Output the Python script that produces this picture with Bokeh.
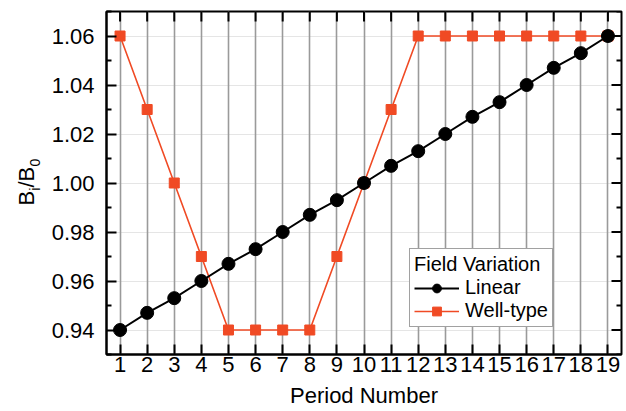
from bokeh.plotting import figure
from bokeh.layouts import row
from bokeh.models import (LinearAxis, FixedTicker, NumeralTickFormatter, Range1d,
                          Legend, Grid)
from bokeh.core.properties import value
from bokeh.embed import file_html
from bokeh.resources import INLINE
import math

# ---- data ----
period = [1, 2, 3, 4, 5, 6, 7, 8, 9, 10, 11, 12, 13, 14, 15, 16, 17, 18, 19]
linear = [0.940, 0.947, 0.953, 0.960, 0.967, 0.973, 0.980, 0.987, 0.993, 1.000,
          1.007, 1.013, 1.020, 1.027, 1.033, 1.040, 1.047, 1.053, 1.060]
well_type = [1.06, 1.03, 1.00, 0.97, 0.94, 0.94, 0.94, 0.94, 0.97, 1.00,
             1.03, 1.06, 1.06, 1.06, 1.06, 1.06, 1.06, 1.06, 1.06]
x_ticks = list(range(1, 20))
y_ticks = [0.94, 0.96, 0.98, 1.00, 1.02, 1.04, 1.06]
y_minor = [0.93, 0.95, 0.97, 0.99, 1.01, 1.03, 1.05, 1.07]
y_label_parts = ["B", "i", "/B", "0"]

FONT = "Liberation Sans"
RED = "#F04A24"
X0, X1, Y0, Y1 = 0.5, 19.5, 0.93, 1.07
W, H = 626, 411
LW = 48                      # width of the y-label strip
BL, BR, BT, BB = 106 - LW, 5, 11, 57

p = figure(width=W - LW, height=H, output_backend="svg", toolbar_location=None,
           title=None,
           x_range=Range1d(X0, X1), y_range=Range1d(Y0, Y1),
           min_border_left=BL, min_border_right=BR, min_border_top=BT,
           min_border_bottom=BB, x_axis_location=None, y_axis_location=None)
p.background_fill_color = "white"
p.border_fill_color = "white"
p.outline_line_color = "black"
p.outline_line_width = 2

def style_axis(ax):
    ax.axis_line_color = "black"
    ax.axis_line_width = 2
    ax.major_tick_in = 10
    ax.major_tick_out = 0
    ax.minor_tick_in = 5
    ax.minor_tick_out = 0
    ax.major_tick_line_color = "black"
    ax.major_tick_line_width = 2
    ax.minor_tick_line_color = "black"
    ax.minor_tick_line_width = 2
    ax.major_label_text_font = FONT
    ax.major_label_text_font_size = "22px"
    ax.major_label_text_color = "black"

xb = LinearAxis(ticker=FixedTicker(ticks=x_ticks))
style_axis(xb)
xb.major_label_standoff = 2
xb.axis_label = "Period Number"
xb.axis_label_text_font = FONT
xb.axis_label_text_font_size = "22px"
xb.axis_label_text_font_style = "normal"
xb.axis_label_text_color = "black"
xb.axis_label_standoff = 8
yl = LinearAxis(ticker=FixedTicker(ticks=y_ticks, minor_ticks=y_minor),
                formatter=NumeralTickFormatter(format="0.00"))
style_axis(yl)
yl.major_label_standoff = 12
p.add_layout(xb, "below")
p.add_layout(yl, "left")

# vertical grid lines at each period
g = Grid(dimension=0, ticker=FixedTicker(ticks=x_ticks))
g.grid_line_color = "#9a9a9a"
g.grid_line_width = 1.6
p.add_layout(g)

# inward ticks on top and right frame edges (outer half clipped by the frame)
p.scatter(x_ticks, [Y1] * len(x_ticks), marker="dash", angle=math.pi / 2,
          size=20, line_color="black", line_width=2)
p.scatter([X1] * len(y_ticks), y_ticks, marker="dash", size=20,
          line_color="black", line_width=2)
p.scatter([X1] * len(y_minor), y_minor, marker="dash", size=10,
          line_color="black", line_width=2)

# series
r_wl = p.line(period, well_type, line_color=RED, line_width=1.6)
r_ws = p.scatter(period, well_type, marker="square", size=10, fill_color=RED,
                 line_color=RED)
r_ll = p.line(period, linear, line_color="black", line_width=2)
r_ls = p.scatter(period, linear, marker="circle", size=13, fill_color="black",
                 line_color="black")

legend = Legend(items=[("Linear", [r_ll, r_ls]), ("Well-type", [r_wl, r_ws])],
                location=(303, 27), title="Field Variation")
legend.title_text_font = FONT
legend.title_text_font_size = "20px"
legend.title_text_font_style = "normal"
legend.title_text_color = "black"
legend.label_text_font = FONT
legend.label_text_font_size = "20px"
legend.label_text_color = "black"
legend.border_line_color = "#444444"
legend.border_line_width = 1
legend.padding = 4
legend.spacing = 0
legend.margin = 0
legend.glyph_width = 45
legend.glyph_height = 22
legend.label_height = 22
legend.label_standoff = 6
legend.title_standoff = 0
legend.background_fill_alpha = 1
p.add_layout(legend, "center")

# ---- y-axis label strip: B_i/B_0 as real text with subscripts ----
# the row aligns this strip's frame with the main frame (page y 11..354),
# so its y range is expressed in page pixels measured from the top
lab = figure(width=LW, height=H, output_backend="svg", toolbar_location=None,
             title=None,
             x_range=Range1d(0, LW), y_range=Range1d(H - BB, BT),
             min_border=0, x_axis_location=None, y_axis_location=None)
lab.outline_line_color = None
lab.grid.visible = False
lab.background_fill_color = "white"
lab.border_fill_color = "white"

sizes = ["22px", "14px", "22px", "14px"]
cx = [25.8, 34.6, 25.8, 34.6]
cy = [197.6, 188.6, 176.6, 162.2]
lab.text(x=cx, y=cy, text=y_label_parts, angle=math.pi / 2,
         text_font=value(FONT), text_font_size=sizes,
         text_baseline="middle", text_align="center", text_color="black")

layout = row(lab, p, spacing=0)
open("out.html", "w").write(file_html(layout, INLINE))
